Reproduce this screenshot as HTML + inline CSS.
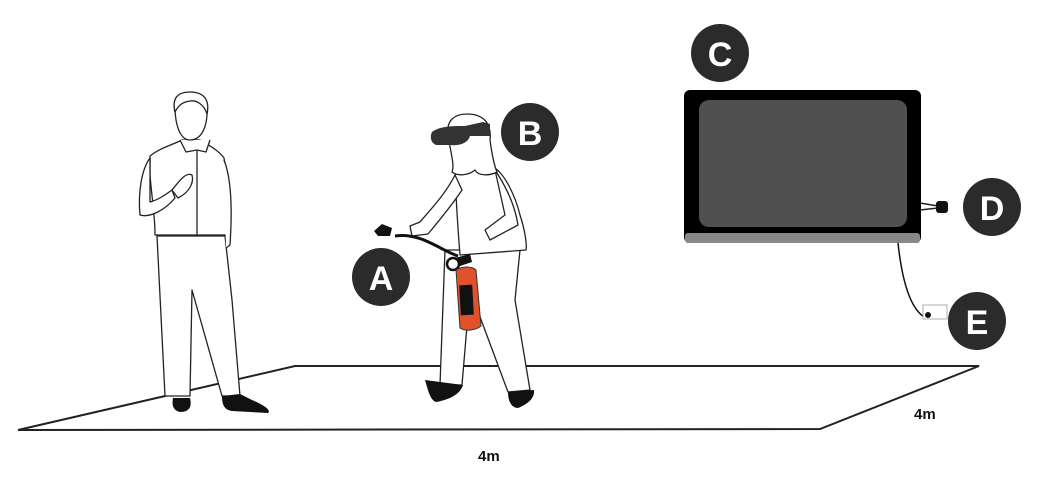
<!DOCTYPE html>
<html><head><style>
html,body{margin:0;padding:0;background:#fff;width:1051px;height:496px;overflow:hidden}
svg{display:block}
text{font-family:"Liberation Sans",sans-serif}
.lbl{font-size:34px;fill:#fff;font-weight:bold;text-anchor:middle}
</style></head><body>
<svg width="1051" height="496" viewBox="0 0 1051 496">
<!-- floor -->
<polygon points="18,430 295,366 979,366 820,429" fill="none" stroke="#222" stroke-width="2"/>
<text x="478" y="461" font-size="15" font-weight="bold" fill="#111">4m</text>
<text x="914" y="419" font-size="15" font-weight="bold" fill="#111">4m</text>

<!-- man -->
<g fill="#fff" stroke="#222" stroke-width="1.3" stroke-linejoin="round">
<path d="M157,236 L165,396 L190,396 L192,290 L222,396 L240,396 L232,300 L225,236 Z"/>
<path d="M150,156 C160,148 172,145 182,140 L200,140 C210,146 218,150 224,158 C228,180 228,205 228,235 L155,235 C155,215 152,200 150,175 Z"/>
<path d="M150,158 C141,170 138,195 140,215 C150,218 165,210 175,198 L172,190 C165,195 158,200 150,202 Z"/>
<path d="M172,190 C180,180 186,172 192,175 C194,182 190,192 178,198 Z"/>
<path d="M224,160 C232,180 232,215 230,245 L226,248"/>
<path d="M197,150 L197,235"/>
<path d="M180,140 L186,152 L197,150 L206,152 L210,140"/>
<path d="M175,110 C174,98 182,92 192,93 C204,94 208,102 207,115 C206,130 200,140 190,140 C182,140 176,130 175,110 Z"/>
<path d="M175,112 C172,100 176,92 190,92 C204,92 210,100 207,114 C204,104 196,100 190,101 C182,102 178,106 175,112 Z" fill="#fff"/>
</g>
<path d="M173,398 C172,404 172,410 180,412 C190,412 192,406 190,398 Z" fill="#111"/>
<path d="M222,396 C222,404 224,410 232,411 L268,413 C272,410 262,404 252,400 L240,394 Z" fill="#111"/>

<!-- woman -->
<g fill="#fff" stroke="#222" stroke-width="1.3" stroke-linejoin="round">
<path d="M445,250 L440,385 L462,385 L470,290 L508,392 L530,390 L515,300 L520,250 Z"/>
<path d="M455,170 C462,166 480,164 495,168 C505,175 515,195 520,215 C525,230 527,245 526,250 L460,255 C458,230 456,200 455,170 Z"/>
<path d="M455,175 C445,195 430,210 420,222 L410,226 L412,236 L428,234 C438,222 452,205 462,190 Z"/>
<path d="M495,170 C505,185 515,205 518,225 L490,240 L485,230 L505,215 Z"/>
<path d="M448,135 C446,120 455,114 467,114 C482,114 492,122 490,140 C492,155 494,165 497,172 C490,176 478,176 475,170 C468,176 457,176 452,172 C455,165 450,150 448,135 Z"/>
</g>
<path d="M432,132 C440,126 452,126 465,126 L483,122 L490,124 L490,136 L470,136 C468,143 460,146 450,145 L436,145 C430,142 430,136 432,132 Z" fill="#333"/>
<path d="M425,380 C428,390 430,400 436,402 C448,400 460,395 463,385 Z" fill="#111"/>
<path d="M508,392 C508,402 512,408 518,408 C528,404 535,398 534,390 Z" fill="#111"/>
<!-- hose & extinguisher -->
<path d="M395,236 C420,232 440,250 458,256" fill="none" stroke="#111" stroke-width="3"/>
<path d="M374,231 L382,224 L392,228 L390,236 L378,236 Z" fill="#111"/>
<circle cx="453" cy="264" r="6" fill="none" stroke="#111" stroke-width="2.5"/>
<path d="M455,258 L470,254 L472,262 L460,266 Z" fill="#111"/>
<path d="M456,270 C462,266 472,266 476,270 L481,326 C476,330 466,332 460,328 Z" fill="#e0522a" stroke="#333" stroke-width="1"/>
<rect x="460" y="285" width="13" height="30" fill="#111" transform="rotate(-3 466 300)"/>

<!-- TV -->
<rect x="684" y="90" width="237" height="153" rx="6" fill="#000"/>
<rect x="685" y="233" width="235" height="10" rx="3" fill="#888"/>
<rect x="699" y="100" width="208" height="127" rx="10" fill="#505050"/>
<path d="M920,203 L938,206 M920,210 L938,208" stroke="#222" stroke-width="1.5" fill="none"/>
<rect x="936" y="201" width="12" height="12" rx="3" fill="#111"/>
<path d="M898,243 C902,280 910,310 926,318" fill="none" stroke="#111" stroke-width="1.5"/>
<rect x="923" y="305" width="24" height="14" fill="#fff" stroke="#999" stroke-width="0.8"/>
<circle cx="928" cy="315" r="3" fill="#111"/>

<!-- labels -->
<circle cx="381" cy="277" r="29" fill="#2b2b2b"/><text class="lbl" x="381" y="290">A</text>
<circle cx="530" cy="132" r="29" fill="#2b2b2b"/><text class="lbl" x="530" y="145">B</text>
<circle cx="720" cy="53" r="29" fill="#2b2b2b"/><text class="lbl" x="720" y="66">C</text>
<circle cx="992" cy="207" r="29" fill="#2b2b2b"/><text class="lbl" x="992" y="220">D</text>
<circle cx="977" cy="321" r="29" fill="#2b2b2b"/><text class="lbl" x="977" y="334">E</text>
</svg>
</body></html>
